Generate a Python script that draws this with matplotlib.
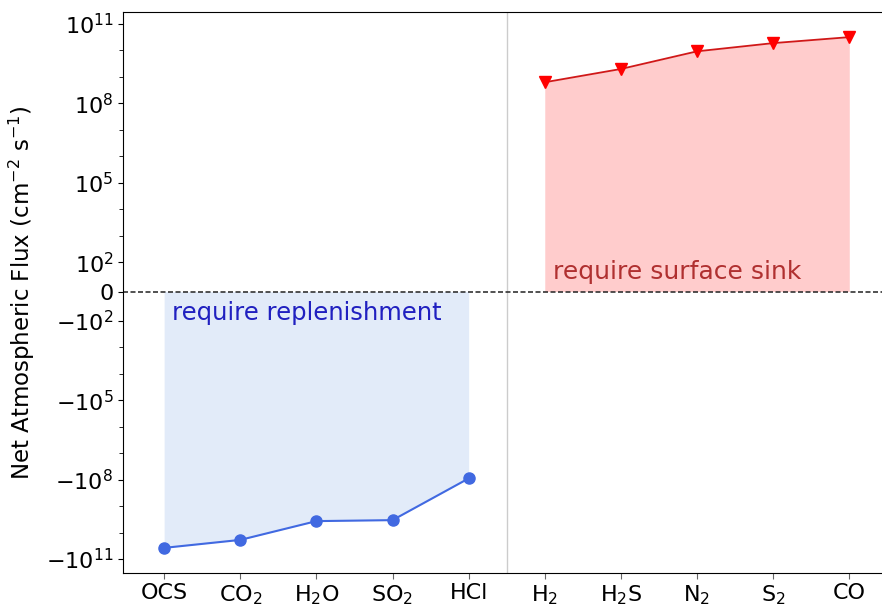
import numpy as np
import matplotlib.pyplot as plt

# species and net fluxes (cm^-2 s^-1)
src_species = ['OCS', 'CO$_2$', 'H$_2$O', 'SO$_2$', 'HCl']
src_flux = [-3.8e10, -1.9e10, -3.7e9, -3.4e9, -9e7]

sink_species = ['H$_2$', 'H$_2$S', 'N$_2$', 'S$_2$', 'CO']
sink_flux = [6.3e8, 2.0e9, 9.3e9, 1.9e10, 3.2e10]

yticks = [-1e11, -1e8, -1e5, -1e2, 0, 1e2, 1e5, 1e8, 1e11]
yticklabels = ['$-10^{11}$', '$-10^{8}$', '$-10^{5}$', '$-10^{2}$', '0',
               '$10^{2}$', '$10^{5}$', '$10^{8}$', '$10^{11}$']

fig = plt.figure(figsize=(8.82, 6.07), dpi=100)
ax = fig.add_axes([0.1395, 0.056, 0.870, 0.924])

xs = np.arange(len(src_species))
xk = np.arange(len(sink_species)) + len(src_species)

# shaded regions
ax.fill_between(xs, src_flux, 0, color='#e2ebf9', lw=0, zorder=1)
ax.fill_between(xk, sink_flux, 0, color='#ffcccc', lw=0, zorder=1)

ax.plot(xs, src_flux, '-o', color='#4169e1', ms=8, lw=1.5, zorder=3)
ax.plot(xk, sink_flux, '-v', color='#d01818', mfc='red', mec='red',
        ms=8, lw=1.3, zorder=3)

ax.axhline(0, color='#333333', lw=1.2, ls=(0, (3, 1.5)), zorder=2)
ax.axvline(4.5, color='#cccccc', lw=1, zorder=0)

ax.text(0.1, -72, 'require replenishment', color='#2020c0', fontsize=17.5,
        va='center', ha='left')
ax.text(5.11, 68, 'require surface sink', color='#b03030', fontsize=18,
        va='center', ha='left')

ax.set_yscale('symlog', linthresh=100)
ax.set_ylim(-10**11.53, 10**11.45)
ax.set_xlim(-0.54, 9.54)

ax.set_yticks(yticks)
ax.set_yticklabels(yticklabels, fontsize=16)
minor = []
for e in [3, 4, 6, 7, 9, 10]:
    minor += [10.0**e, -10.0**e]
ax.set_yticks(minor, minor=True)
ax.tick_params(axis='y', which='minor', length=3)

ax.set_xticks(np.concatenate([xs, xk]))
ax.set_xticklabels(src_species + sink_species, fontsize=16)
ax.tick_params(axis='x', length=4, color='#666666')

ax.set_ylabel('Net Atmospheric Flux (cm$^{-2}$ s$^{-1}$)', fontsize=16.5)
ax.yaxis.set_label_coords(-0.112, 0.5)

fig.savefig('out.png', dpi=100)
